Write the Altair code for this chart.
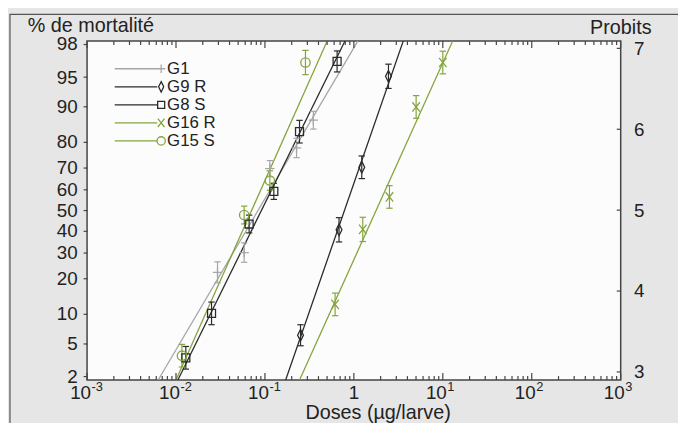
import altair as alt
import pandas as pd
from statistics import NormalDist

ND = NormalDist(5, 1)


def probit(pct):
    return ND.inv_cdf(pct / 100.0)


# ---------------- data ----------------
series = ["G1", "G9 R", "G8 S", "G16 R", "G15 S"]
colors = ["#a6a6a6", "#2a2a2a", "#2a2a2a", "#84a43e", "#84a43e"]
shapes = [
    "M-1,0H1M0,-1V1",                    # +
    "M0,-1.25L0.62,0L0,1.25L-0.62,0Z",   # diamond
    "M-0.85,-0.85H0.85V0.85H-0.85Z",     # square
    "M-0.8,-1L0.8,1M-0.8,1L0.8,-1",      # x
    "circle",                            # o
]

# points: dose (µg/larve), % mortality, half error bar (probit units)
g1_dose = [0.0293, 0.0584, 0.1136, 0.2267, 0.3503]
g1_pct = [22.1, 30.0, 69.6, 77.9, 86.7]
g1_err = [0.13, 0.12, 0.10, 0.12, 0.11]

g9_dose = [0.2512, 0.681, 1.227, 2.448]
g9_pct = [6.1, 40.4, 70.2, 95.1]
g9_err = [0.13, 0.15, 0.14, 0.15]

g8_dose = [0.0129, 0.0251, 0.0664, 0.1259, 0.2448, 0.6477]
g8_pct = [3.4, 10.1, 43.2, 59.2, 83.4, 96.7]
g8_err = [0.14, 0.14, 0.11, 0.10, 0.14, 0.13]

g16_dose = [0.615, 1.259, 2.512, 5.012, 10.0]
g16_pct = [12.2, 40.6, 56.5, 89.9, 96.6]
g16_err = [0.14, 0.15, 0.14, 0.14, 0.14]

g15_dose = [0.01166, 0.0584, 0.1136, 0.2855]
g15_pct = [3.6, 47.6, 64.3, 96.6]
g15_err = [0.14, 0.11, 0.12, 0.15]

# fitted probit lines: dose where each line leaves the bottom / top of the plot
line_dose_lo = [0.00631, 0.171, 0.0105, 0.245, 0.0100]
line_dose_hi = [1.107, 3.59, 0.794, 12.9, 0.501]
line_pct = [1.79, 98.17]

pct_ticks = [2, 5, 10, 20, 30, 40, 50, 60, 70, 80, 90, 95, 98]
probit_ticks = [3, 4, 5, 6, 7]
decades = [1e-3, 1e-2, 1e-1, 1, 10, 100, 1000]
dec_base = ["10", "10", "10", "1", "10", "10", "10"]
dec_exp = ["-3", "-2", "-1", "", "1", "2", "3"]

# ---------------- tables ----------------
pt_rows = []
for name, ds, ps, es in [
    ("G1", g1_dose, g1_pct, g1_err),
    ("G9 R", g9_dose, g9_pct, g9_err),
    ("G8 S", g8_dose, g8_pct, g8_err),
    ("G16 R", g16_dose, g16_pct, g16_err),
    ("G15 S", g15_dose, g15_pct, g15_err),
]:
    for d, pc, e in zip(ds, ps, es):
        p = probit(pc)
        pt_rows.append(dict(series=name, dose=d, p=p, lo=p - e, hi=p + e))
pts = pd.DataFrame(pt_rows)

line_rows = []
for name, d0, d1 in zip(series, line_dose_lo, line_dose_hi):
    line_rows.append(dict(series=name, dose=d0, p=probit(line_pct[0])))
    line_rows.append(dict(series=name, dose=d1, p=probit(line_pct[1])))
lines = pd.DataFrame(line_rows)

major = pd.DataFrame({"dose": decades})
minor = pd.DataFrame({"dose": [d * k for d in decades[:-1] for k in range(2, 10)]})
xlab = pd.DataFrame({"dose": decades, "base": dec_base, "exp": dec_exp})
right_df = pd.DataFrame({"p": probit_ticks})
leg = pd.DataFrame({"series": series, "row": list(range(len(series)))})

FONT = "Liberation Sans, Arial, Helvetica, sans-serif"
TXT = "#222222"
W, H = 540, 343

xscale = alt.Scale(type="log", domain=[1e-3, 1e3], nice=False)
xaxis = alt.Axis(
    values=decades, labels=False, ticks=False, domain=False, grid=False,
    title="Doses (µg/larve)", titleFont=FONT,
    titleFontSize=20, titleFontWeight="normal", titleColor=TXT, titleX=294,
    titleY=39, titleAlign="center", titleBaseline="alphabetic",
)
X = alt.X("dose:Q", scale=xscale, axis=xaxis)
yscale = alt.Scale(domain=[2.9, 7.09], nice=False, zero=False)
Yn = alt.Y("p:Q", scale=yscale, axis=None)
color = alt.Color("series:N", scale=alt.Scale(domain=series, range=colors), legend=None)
shape = alt.Shape("series:N", scale=alt.Scale(domain=series, range=shapes), legend=None)

one = pd.DataFrame({"t": ["% de mortalité"]})
frame = alt.Chart(one).mark_rect(fillOpacity=0, stroke="#555555", strokeWidth=1.2).encode(
    x=alt.value(-78), x2=alt.value(720), y=alt.value(-27), y2=alt.value(500)
)

line_layer = alt.Chart(lines).mark_line(clip=True, strokeWidth=1.3).encode(
    x=X,
    y=alt.Y(
        "p:Q", scale=yscale,
        axis=alt.Axis(
            orient="left", values=[probit(v) for v in pct_ticks],
            labelExpr="round(cumulativeNormal(datum.value, 5, 1)*100)",
            title=None, domain=False, grid=False, tickSize=4, tickColor="#444",
            tickWidth=1.2, labelFontSize=19, labelFont=FONT, labelColor=TXT,
            labelPadding=6,
        ),
    ),
    color=color, detail="series:N",
)

err_layer = alt.Chart(pts).mark_rule(strokeWidth=1.2).encode(
    x=X, y=alt.Y("lo:Q", scale=yscale, axis=None), y2="hi:Q", color=color
)
cap_lo = alt.Chart(pts).mark_point(shape="M-1,0H1", size=42, filled=False, strokeWidth=1.2, opacity=1).encode(
    x=X, y=alt.Y("lo:Q", scale=yscale, axis=None), color=color
)
cap_hi = alt.Chart(pts).mark_point(shape="M-1,0H1", size=42, filled=False, strokeWidth=1.2, opacity=1).encode(
    x=X, y=alt.Y("hi:Q", scale=yscale, axis=None), color=color
)
pt_layer = alt.Chart(pts).mark_point(filled=False, size=90, strokeWidth=1.3, opacity=1).encode(
    x=X, y=Yn, color=color, shape=shape
)

TK = "#444444"
bot_major = alt.Chart(major).mark_rule(color=TK, strokeWidth=1.2).encode(
    x=X, y=alt.value(H), y2=alt.value(H - 7))
bot_minor = alt.Chart(minor).mark_rule(color=TK, strokeWidth=1.2).encode(
    x=X, y=alt.value(H), y2=alt.value(H - 4))
top_major = alt.Chart(major).mark_rule(color=TK, strokeWidth=1.2).encode(
    x=X, y=alt.value(0), y2=alt.value(7))
top_minor = alt.Chart(minor).mark_rule(color=TK, strokeWidth=1.2).encode(
    x=X, y=alt.value(0), y2=alt.value(4))

# x tick labels: "10" with a raised exponent
lab_base = alt.Chart(xlab).transform_filter("datum.exp != ''").mark_text(
    align="right", baseline="alphabetic", dx=4, fontSize=19, font=FONT, color=TXT).encode(
    x=X, y=alt.value(H + 19), text="base:N")
lab_exp = alt.Chart(xlab).transform_filter("datum.exp != ''").mark_text(
    align="left", baseline="alphabetic", dx=4.5, dy=-8, fontSize=13, font=FONT, color=TXT).encode(
    x=X, y=alt.value(H + 19), text="exp:N")
lab_one = alt.Chart(xlab).transform_filter("datum.exp == ''").mark_text(
    align="center", baseline="alphabetic", fontSize=19, font=FONT, color=TXT).encode(
    x=X, y=alt.value(H + 19), text="base:N")

right_layer = alt.Chart(right_df).mark_rule(color=TK, strokeWidth=1.2).encode(
    x=alt.value(W), x2=alt.value(W - 4),
    y=alt.Y("p:Q", scale=yscale, axis=alt.Axis(
        orient="right", values=probit_ticks, format="d", ticks=False, domain=False,
        grid=False, title=None, labelFontSize=19, labelFont=FONT, labelColor=TXT,
        labelPadding=13,
    )),
)

legY = alt.Y("row:Q", scale=alt.Scale(domain=[0, 4], range=[28, 101], zero=False, nice=False), axis=None)
leg_line = alt.Chart(leg).mark_rule(strokeWidth=1.3).encode(
    x=alt.value(28), x2=alt.value(71), y=legY, color=color)
leg_pt = alt.Chart(leg).mark_point(filled=False, size=70, strokeWidth=1.3, opacity=1).encode(
    x=alt.value(75), y=legY, color=color, shape=shape)
leg_txt = alt.Chart(leg).mark_text(align="left", baseline="middle", fontSize=17, font=FONT, color=TXT).encode(
    x=alt.value(81), y=legY, text="series:N")

t_left = alt.Chart(one).mark_text(align="left", baseline="alphabetic", fontSize=20, font=FONT, color=TXT).encode(
    x=alt.value(-60), y=alt.value(-9), text="t:N")
t_right = alt.Chart(pd.DataFrame({"t": ["Probits"]})).mark_text(
    align="left", baseline="alphabetic", fontSize=20, font=FONT, color=TXT).encode(
    x=alt.value(509), y=alt.value(-7), text="t:N")

chart = alt.layer(
    frame, line_layer, err_layer, cap_lo, cap_hi, pt_layer,
    bot_major, bot_minor, top_major, top_minor, lab_base, lab_exp, lab_one,
    right_layer, leg_line, leg_pt, leg_txt, t_left, t_right,
).resolve_scale(y="independent").properties(
    width=W, height=H,
    autosize=alt.AutoSizeParams(type="none"),
    padding={"left": 80, "top": 31, "right": 58, "bottom": 41},
    background="#e6e6e6",
).configure_view(fill="#fcfcfc", stroke="#444444", strokeWidth=1.5)

chart.save("out.html", embed_options={"renderer": "svg", "actions": False})
